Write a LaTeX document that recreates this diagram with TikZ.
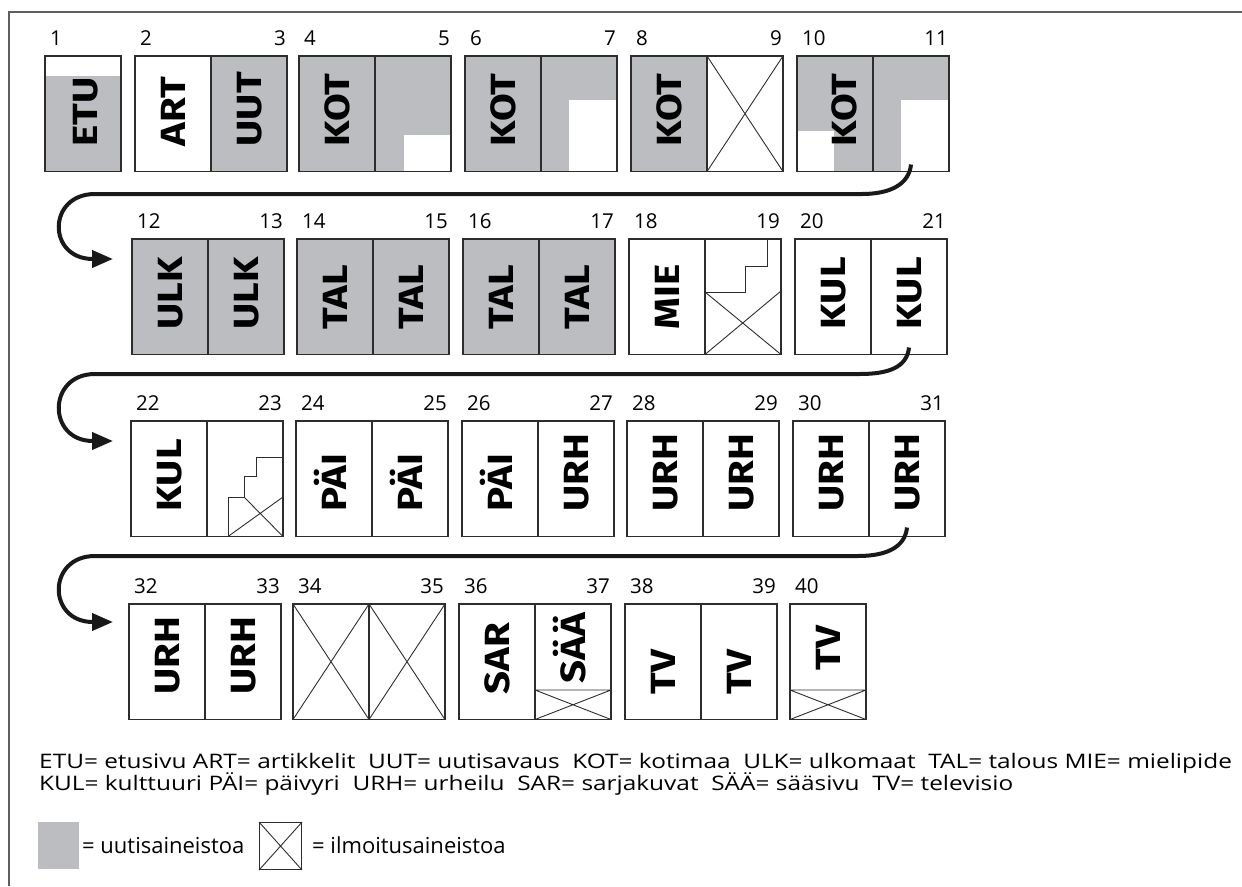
\documentclass[tikz,border=0pt]{standalone}
\usepackage{fontspec}
\usepackage{graphicx}
\setmainfont{Open Sans}
\IfFontExistsTF{Fira Sans Heavy}{\newfontfamily\labfont{Fira Sans Heavy}\newcommand\lblfont{\labfont}}{\newfontfamily\labfont{Fira Sans}\newcommand\lblfont{\labfont\bfseries}}
\usetikzlibrary{arrows.meta,calc,backgrounds}
\definecolor{newsgray}{RGB}{188,189,192}
\definecolor{linec}{RGB}{45,45,45}
\definecolor{framec}{RGB}{95,95,95}
\newcommand\lbsc[1]{\scalebox{1.15}[1]{#1}}
\newcommand\legsc[1]{\scalebox{1.22}[1]{#1}}
\newcommand\spread[4]{%
  \node[page] (p#1) at (#3,#4) {};
  \node[page] (p#2) at (#3+76,#4) {};
  \node[numl] (n#1) at ($(p#1.north west)+(5,-11)$) {#1};
  \node[numr] (n#2) at ($(p#2.north east)+(-1,-11)$) {#2};
}
\newcommand\single[3]{%
  \node[page] (p#1) at (#2,#3) {};
  \node[numl] (n#1) at ($(p#1.north west)+(5,-11)$) {#1};
}
\begin{document}
\begin{tikzpicture}[x=1pt,y=-1pt,
  page/.style={draw=linec,line width=1.3pt,minimum width=76pt,minimum height=115.5pt,inner sep=0pt,outer sep=0pt,anchor=north west},
  num/.style={font=\fontsize{20.5}{24}\selectfont,inner sep=0pt},
  numl/.style={num,anchor=base west},
  numr/.style={num,anchor=base east},
  lab/.style={font=\fontsize{35}{38}\selectfont\lblfont,rotate=90,anchor=west,inner sep=0pt,text height=24.1pt,text depth=0pt},
  labc/.style={lab,anchor=center},
  ad/.style={draw=linec,line width=0.9pt},
  conn/.style={draw=black!90,line width=4pt,-{Triangle[length=21pt,width=17pt]}},
  legtext/.style={font=\fontsize{20}{24}\selectfont,inner sep=0pt,anchor=base west},
  keytext/.style={font=\fontsize{22}{24}\selectfont,inner sep=0pt,anchor=base west},
]
\useasboundingbox (0,0) rectangle (1242,886);
% frame
\draw[framec,line width=2pt] (9,886) -- (9,12) -- (1242,12);
% ---------- pages ----------
\single{1}{45}{56}
\spread{2}{3}{135}{56}
\spread{4}{5}{299}{56}
\spread{6}{7}{465}{56}
\spread{8}{9}{631}{56}
\spread{10}{11}{797}{56}
\spread{12}{13}{132}{239}
\spread{14}{15}{297}{239}
\spread{16}{17}{463}{239}
\spread{18}{19}{629}{239}
\spread{20}{21}{795}{239}
\spread{22}{23}{131}{421}
\spread{24}{25}{296}{421}
\spread{26}{27}{462}{421}
\spread{28}{29}{627}{421}
\spread{30}{31}{793}{421}
\spread{32}{33}{129}{604}
\spread{34}{35}{293}{604}
\spread{36}{37}{459}{604}
\spread{38}{39}{625}{604}
\single{40}{790}{604}
% ---------- news fills ----------
\begin{pgfonlayer}{background}
\fill[newsgray] ($(p1.north west)+(0,20)$) rectangle (p1.south east);
\foreach \q in {3,4,5,6,7,8,10,11,12,13,14,15,16,17}{
  \fill[newsgray] (p\q.north west) rectangle (p\q.south east);
}
\fill[white] ($(p5.south east)+(-47,-37)$) rectangle (p5.south east);
\fill[white] ($(p7.south east)+(-48,-72)$) rectangle (p7.south east);
\fill[white] ($(p11.south east)+(-48,-72)$) rectangle (p11.south east);
\fill[white] ($(p10.south west)+(0,-41)$) rectangle ($(p10.south west)+(37,0)$);
\end{pgfonlayer}
% ---------- advert areas ----------
\foreach \q in {9,34,35}{
  \draw[ad] (p\q.north west) -- (p\q.south east) (p\q.south west) -- (p\q.north east);
}
\begin{scope}[shift={(p19.north west)}]
  \draw[ad] (62,0) -- (62,27) -- (40,27) -- (40,53) -- (0,53);
  \draw[ad] (0,53) -- (76,115.5) (0,115.5) -- (76,52);
\end{scope}
\begin{scope}[shift={(p23.north west)}]
  \draw[ad] (76,36) -- (49,36) -- (49,55) -- (37,55) -- (37,76) -- (21,76) -- (21,115.5);
  \draw[ad] (21,115.5) -- (76,76) (37,76) -- (76,115.5);
\end{scope}
\foreach \q in {37,40}{
  \begin{scope}[shift={(p\q.north west)}]
    \draw[ad] (0,86) -- (76,86) (0,86) -- (76,115.5) (0,115.5) -- (76,86);
  \end{scope}
}
% ---------- section labels ----------
\node[lab] (l1) at ($(p1.south)+(2,-25)$) {\lbsc{ETU}};
\node[lab] (l2) at ($(p2.south)+(0,-25)$) {\lbsc{ART}};
\node[lab] (l3) at ($(p3.south)+(0,-25)$) {\lbsc{UUT}};
\node[lab] (l4) at ($(p4.south)+(0,-25)$) {\lbsc{KOT}};
\node[lab] (l6) at ($(p6.south)+(0,-25)$) {\lbsc{KOT}};
\node[lab] (l8) at ($(p8.south)+(0,-25)$) {\lbsc{KOT}};
\node[lab] (l10) at ($(p10.south)+(9,-25)$) {\lbsc{KOT}};
\node[lab] (l12) at ($(p12.south)+(0,-25)$) {\lbsc{ULK}};
\node[lab] (l13) at ($(p13.south)+(0,-25)$) {\lbsc{ULK}};
\node[lab] (l14) at ($(p14.south)+(0,-25)$) {\lbsc{TAL}};
\node[lab] (l15) at ($(p15.south)+(0,-25)$) {\lbsc{TAL}};
\node[lab] (l16) at ($(p16.south)+(0,-25)$) {\lbsc{TAL}};
\node[lab] (l17) at ($(p17.south)+(0,-25)$) {\lbsc{TAL}};
\node[lab] (l18) at ($(p18.south)+(0,-25)$) {\lbsc{MIE}};
\node[lab] (l20) at ($(p20.south)+(0,-25)$) {\lbsc{KUL}};
\node[lab] (l21) at ($(p21.south)+(0,-25)$) {\lbsc{KUL}};
\node[lab] (l22) at ($(p22.south)+(0,-25)$) {\lbsc{KUL}};
\node[lab] (l24) at ($(p24.south)+(0,-25)$) {\lbsc{PÄI}};
\node[lab] (l25) at ($(p25.south)+(0,-25)$) {\lbsc{PÄI}};
\node[lab] (l26) at ($(p26.south)+(0,-25)$) {\lbsc{PÄI}};
\node[lab] (l27) at ($(p27.south)+(0,-25)$) {\lbsc{URH}};
\node[lab] (l28) at ($(p28.south)+(0,-25)$) {\lbsc{URH}};
\node[lab] (l29) at ($(p29.south)+(0,-25)$) {\lbsc{URH}};
\node[lab] (l30) at ($(p30.south)+(0,-25)$) {\lbsc{URH}};
\node[lab] (l31) at ($(p31.south)+(0,-25)$) {\lbsc{URH}};
\node[lab] (l32) at ($(p32.south)+(0,-25)$) {\lbsc{URH}};
\node[lab] (l33) at ($(p33.south)+(0,-25)$) {\lbsc{URH}};
\node[lab] (l36) at ($(p36.south)+(0,-25)$) {\lbsc{SAR}};
\node[labc] (l37) at ($(p37.north)+(0,44)$) {\lbsc{SÄÄ}};
\node[lab] (l38) at ($(p38.south)+(0,-25)$) {\lbsc{TV}};
\node[lab] (l39) at ($(p39.south)+(0,-25)$) {\lbsc{TV}};
\node[labc] (l40) at ($(p40.north)+(0,44)$) {\lbsc{TV}};
% ---------- connectors ----------
\coordinate (c1s) at ($(p11.south)+(0,-7)$);
\coordinate (c1t) at (113,259);
\draw[conn] (c1s) .. controls +(-2,20) and +(28,0) .. (862,194) -- (95,194) .. controls (47,194) and (47,259) .. (93,259) -- (c1t);
\coordinate (c2s) at ($(p21.south)+(0,-7)$);
\coordinate (c2t) at (113,441);
\draw[conn] (c2s) .. controls +(-2,20) and +(28,0) .. (860,374) -- (95,374) .. controls (47,374) and (47,441) .. (93,441) -- (c2t);
\coordinate (c3s) at ($(p31.south)+(0,-9)$);
\coordinate (c3t) at (113,622);
\draw[conn] (c3s) .. controls +(-2,20) and +(28,0) .. (858,556) -- (95,556) .. controls (47,556) and (47,622) .. (93,622) -- (c3t);
% ---------- legend ----------
\node[legtext] (leg1) at (39,768) {\legsc{ETU= etusivu ART= artikkelit\ \ UUT= uutisavaus\ \ KOT= kotimaa\ \ ULK= ulkomaat\ \ TAL= talous MIE= mielipide}};
\node[legtext] (leg2) at (39,790) {\legsc{KUL= kulttuuri PÄI= päivyri\ \ URH= urheilu\ \ SAR= sarjakuvat\ \ SÄÄ= sääsivu\ \ TV= televisio}};
\node[fill=newsgray,minimum width=41pt,minimum height=47pt,inner sep=0pt,anchor=north west] (kgray) at (38,822) {};
\node[keytext] (kgrayt) at (82,853) {= uutisaineistoa};
\node[draw=linec,line width=1.1pt,minimum width=42pt,minimum height=47pt,inner sep=0pt,anchor=north west] (kad) at (259,822) {};
\draw[ad] (kad.north west) -- (kad.south east) (kad.south west) -- (kad.north east);
\node[keytext] (kadt) at (312,853) {= ilmoitusaineistoa};
\end{tikzpicture}
\end{document}
